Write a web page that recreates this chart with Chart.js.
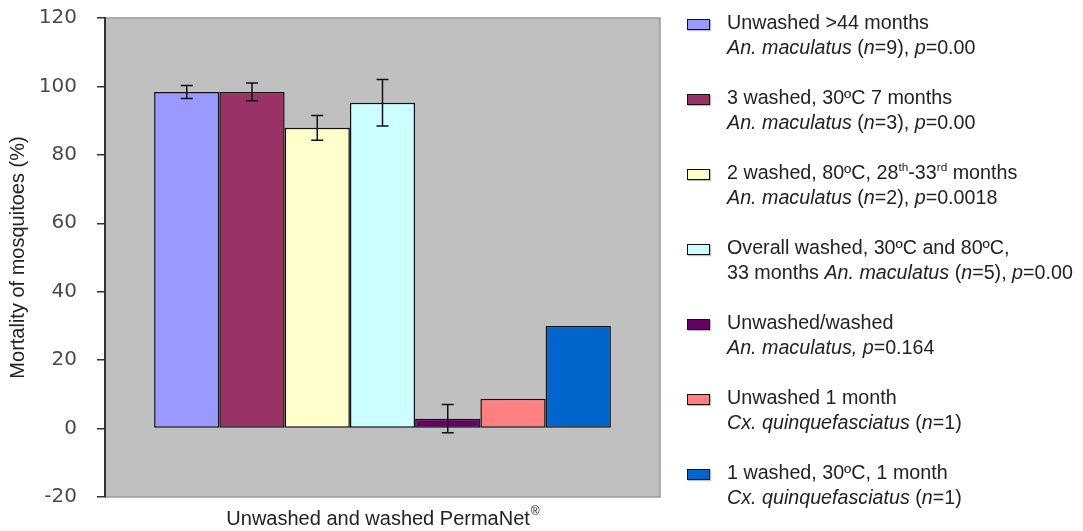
<!DOCTYPE html>
<html>
<head>
<meta charset="utf-8">
<script src="https://cdn.jsdelivr.net/npm/chart.js@4.4.1/dist/chart.umd.min.js"></script>
<style>
  html, body { margin: 0; padding: 0; background: #fff; }
  #wrap { position: relative; width: 1083px; height: 531px; }
  #legend {
    position: absolute; left: 687px; top: 0;
    font-family: "Liberation Sans", Arial, sans-serif; font-size: 19.7px; color: #222;
  }
  .item { position: absolute; left: 0; white-space: nowrap; }
  .box { position: absolute; left: 0; top: 9px; width: 21px; height: 9px; border: 1.5px solid #111; box-shadow: 1px 1px 1px rgba(0,0,0,0.25); }
  .txt { position: absolute; left: 40px; top: 0; line-height: 25px; }
  .txt sup { font-size: 0.6em; line-height: 0; vertical-align: 0.7em; }
</style>
</head>
<body>
<div id="wrap">
  <canvas id="mortalityChart"></canvas>
  <div id="legend"></div>
</div>
<script>
// Mortality of mosquitoes by net group
const category = ['Unwashed and washed PermaNet'];
const seriesNames = [
    'Unwashed >44 months',
    '3 washed, 30ºC 7 months',
    '2 washed, 80ºC, 28th-33rd months',
    'Overall washed, 30ºC and 80ºC, 33 months',
    'Unwashed/washed',
    'Unwashed 1 month',
    '1 washed, 30ºC, 1 month'
];
const legendLines = [
    ['Unwashed &gt;44 months', '<i>An. maculatus</i> (<i>n</i>=9), <i>p</i>=0.00'],
    ['3 washed, 30ºC 7 months', '<i>An. maculatus</i> (<i>n</i>=3), <i>p</i>=0.00'],
    ['2 washed, 80ºC, 28<sup>th</sup>-33<sup>rd</sup> months', '<i>An. maculatus</i> (<i>n</i>=2), <i>p</i>=0.0018'],
    ['Overall washed, 30ºC and 80ºC,', '33 months <i>An. maculatus</i> (<i>n</i>=5), <i>p</i>=0.00'],
    ['Unwashed/washed', '<i>An. maculatus, p</i>=0.164'],
    ['Unwashed 1 month', '<i>Cx. quinquefasciatus</i> (<i>n</i>=1)'],
    ['1 washed, 30ºC, 1 month', '<i>Cx. quinquefasciatus</i> (<i>n</i>=1)']
];
const mortality = [98.4, 98.4, 87.9, 95.2, 2.9, 8.7, 30.0];
const errors = [1.9, 2.6, 3.6, 6.8, 4.1, null, null];
const barColors = ['#9999ff', '#993366', '#ffffcc', '#ccffff', '#660066', '#ff8080', '#0066cc'];
const yTicks = [-20, 0, 20, 40, 60, 80, 100, 120];
const xTitle = 'Unwashed and washed PermaNet';

const plotBackground = {
    id: 'plotBackground',
    beforeDraw(chart) {
        const { ctx, chartArea: a } = chart;
        ctx.save();
        ctx.fillStyle = '#c0c0c0';
        ctx.fillRect(a.left, a.top, a.right - a.left, a.bottom - a.top);
        ctx.strokeStyle = '#9a9a9a';
        ctx.lineWidth = 1.5;
        ctx.strokeRect(a.left, a.top, a.right - a.left, a.bottom - a.top);
        ctx.restore();
    },
    afterDraw(chart) {
        // x title with a superscript ®
        const { ctx, chartArea: a } = chart;
        ctx.save();
        ctx.fillStyle = '#222';
        ctx.textBaseline = 'middle';
        ctx.font = '20px "Liberation Sans"';
        const w1 = ctx.measureText(xTitle).width;
        ctx.font = '12px "Liberation Sans"';
        const w2 = ctx.measureText('®').width;
        const x0 = (a.left + a.right) / 2 - (w1 + w2) / 2;
        const yc = a.bottom + 22;
        ctx.font = '20px "Liberation Sans"';
        ctx.fillText(xTitle, x0, yc);
        ctx.font = '12px "Liberation Sans"';
        ctx.fillText('®', x0 + w1 + 1, yc - 7);
        ctx.restore();
    }
};

const errorBars = {
    id: 'errorBars',
    afterDatasetsDraw(chart) {
        const { ctx } = chart;
        const y = chart.scales.y;
        ctx.save();
        ctx.strokeStyle = '#111';
        ctx.lineWidth = 1.5;
        chart.data.datasets.forEach((ds, i) => {
            const err = errors[i];
            if (err == null) return;
            const bar = chart.getDatasetMeta(i).data[0];
            const v = ds.data[0];
            const top = y.getPixelForValue(v + err);
            const bot = y.getPixelForValue(v - err);
            const x = bar.x;
            ctx.beginPath();
            ctx.moveTo(x, top); ctx.lineTo(x, bot);
            ctx.moveTo(x - 6, top); ctx.lineTo(x + 6, top);
            ctx.moveTo(x - 6, bot); ctx.lineTo(x + 6, bot);
            ctx.stroke();
        });
        ctx.restore();
    }
};

const ctx = document.getElementById('mortalityChart').getContext('2d');
const chart = new Chart(ctx, {
    type: 'bar',
    data: {
        labels: category,
        datasets: seriesNames.map((name, i) => ({
            label: name,
            data: [mortality[i]],
            backgroundColor: barColors[i],
            borderColor: '#111',
            borderWidth: 1.5,
            borderSkipped: false,
            categoryPercentage: 0.823,
            barPercentage: 1
        }))
    },
    options: {
        responsive: true,
        maintainAspectRatio: false,
        animation: false,
        layout: { padding: { top: 18, right: 423, bottom: 0, left: 0 } },
        plugins: {
            legend: { display: false },
            tooltip: { enabled: false }
        },
        scales: {
            x: {
                ticks: { display: false },
                grid: { display: false, drawTicks: false },
                border: { display: false },
                title: {
                    display: true,
                    text: xTitle,
                    color: 'rgba(0,0,0,0)',
                    font: { family: 'Liberation Sans', size: 20 },
                    padding: { top: 10, bottom: 0 }
                }
            },
            y: {
                min: -20,
                max: 120,
                afterFit(scale) {
                    scale.width = 105;
                    scale.paddingTop = 0;
                    scale.paddingBottom = 0;
                },
                afterBuildTicks(scale) { scale.ticks = yTicks.map(v => ({ value: v })); },
                ticks: {
                    color: '#4a4a4a',
                    font: { family: 'DejaVu Sans', size: 20 },
                    padding: 20
                },
                grid: { drawOnChartArea: false, tickLength: 8, color: '#333', lineWidth: 1.5 },
                border: { color: '#333', width: 2 },
                title: {
                    display: true,
                    text: 'Mortality of mosquitoes (%)',
                    color: '#222',
                    font: { family: 'Liberation Sans', size: 20 },
                    padding: { top: 6, bottom: 0 }
                }
            }
        }
    },
    plugins: [plotBackground, errorBars]
});

// HTML legend with italic species names
const legendEl = document.getElementById('legend');
chart.data.datasets.forEach((ds, i) => {
    const item = document.createElement('div');
    item.className = 'item';
    item.style.top = (9.5 + 75 * i) + 'px';
    item.innerHTML = '<div class="box" style="background:' + ds.backgroundColor + '"></div>' +
        '<div class="txt">' + legendLines[i][0] + '<br>' + legendLines[i][1] + '</div>';
    legendEl.appendChild(item);
});
</script>
</body>
</html>
